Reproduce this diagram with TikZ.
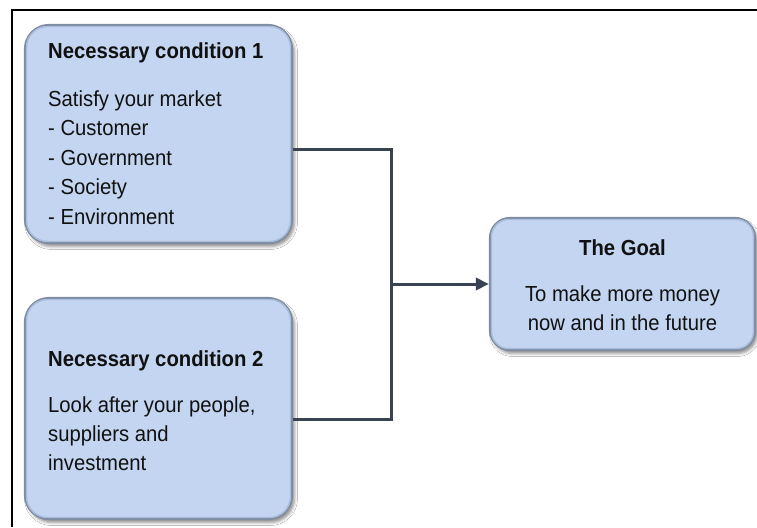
\documentclass[tikz,border=0pt]{standalone}
\usepackage{fontspec}
\setmainfont{Liberation Sans}[FakeStretch=0.93]
\usetikzlibrary{arrows.meta,shadows.blur}
\definecolor{boxfill}{HTML}{C3D5F0}
\definecolor{boxedge}{HTML}{7D8CA3}
\definecolor{boxinner}{HTML}{A9BCD9}
\definecolor{conncol}{HTML}{3A4352}
\definecolor{inkcol}{HTML}{111111}
\tikzset{
  condbox/.style={draw=boxedge, line width=2.2pt, fill=boxfill, rounded corners=24pt,
    blur shadow={shadow xshift=2.5pt, shadow yshift=-3.5pt, shadow blur radius=3pt, shadow opacity=45},
    inner sep=0pt},
  bevel/.style={draw=boxinner, line width=1.4pt},
  ttl/.style={font=\fontsize{21.8}{24}\selectfont\bfseries, text=inkcol, inner sep=0pt},
  txt/.style={font=\fontsize{21.8}{24}\selectfont, text=inkcol, inner sep=0pt},
  conn/.style={draw=conncol, line width=3pt},
  frame/.style={draw=black, line width=2pt}
}
\begin{document}
\begin{tikzpicture}[x=1pt,y=-1pt]
\useasboundingbox (0,0) rectangle (757,527);
\fill[white] (0,0) rectangle (757,527);
% outer frame (left and top edges)
\draw[frame] (12,527) -- (12,10) -- (757,10);

% condition boxes and the goal
\node[condbox, minimum width=267pt, minimum height=218pt] (b1) at (158.5,134) {};
\node[condbox, minimum width=267pt, minimum height=221pt] (b2) at (158.5,408.5) {};
\node[condbox, rounded corners=20pt, minimum width=265pt, minimum height=132pt] (goal) at (622.5,284) {};
% soft inner rim giving the boxes a slight bevel
\draw[bevel, rounded corners=21pt] ([shift={(2.6pt,-2.6pt)}]b1.north west) rectangle ([shift={(-2.6pt,2.6pt)}]b1.south east);
\draw[bevel, rounded corners=21pt] ([shift={(2.6pt,-2.6pt)}]b2.north west) rectangle ([shift={(-2.6pt,2.6pt)}]b2.south east);
\draw[bevel, rounded corners=17pt] ([shift={(2.6pt,-2.6pt)}]goal.north west) rectangle ([shift={(-2.6pt,2.6pt)}]goal.south east);

% texts of condition 1
\node[ttl, anchor=base west] (t1) at (48,59) {Necessary condition 1};
\node[txt, anchor=base west] (l11) at (48,106) {Satisfy your market};
\node[txt, anchor=base west] (l12) at (48,135.5) {- Customer};
\node[txt, anchor=base west] (l13) at (48,165) {- Government};
\node[txt, anchor=base west] (l14) at (48,194.5) {- Society};
\node[txt, anchor=base west] (l15) at (48,224) {- Environment};

% texts of condition 2
\node[ttl, anchor=base west] (t2) at (48,366) {Necessary condition 2};
\node[txt, anchor=base west] (l21) at (48,412) {Look after your people,};
\node[txt, anchor=base west] (l22) at (48,441) {suppliers and};
\node[txt, anchor=base west] (l23) at (48,470) {investment};

% texts of the goal
\node[ttl, anchor=base] (tg) at (622.5,255) {The Goal};
\node[txt, anchor=base] (lg1) at (622.5,301) {To make more money};
\node[txt, anchor=base] (lg2) at (622.5,330) {now and in the future};

% connectors
\coordinate (j) at (391,284);
\draw[conn] ([yshift=-15pt]b1.east) -| (j) |- ([yshift=-10.5pt]b2.east);
\draw[conn, -{Triangle[length=13pt,width=12pt]}] (j) -- (goal.west);
\end{tikzpicture}
\end{document}
